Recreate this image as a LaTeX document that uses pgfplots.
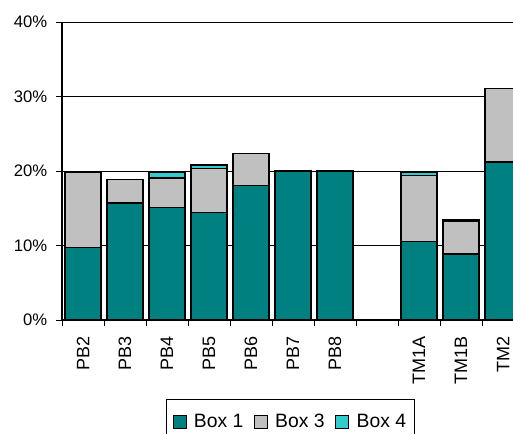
\documentclass[border=0pt]{standalone}
\usepackage{pgfplots}
\pgfplotsset{compat=1.18}
\usepackage{pgfplotstable}
\usepackage{fontspec}
\setmainfont{Liberation Sans}

\definecolor{boxone}{HTML}{008080}
\definecolor{boxthree}{HTML}{C0C0C0}
\definecolor{boxfour}{HTML}{33CCCC}

% x = category slot (slot 7 left empty), values in percent
\pgfplotstableread{
x  b1     b3    b4
0  9.7    10.1  0
1  15.7   3.2   0
2  15.05  4.0   0.7
3  14.4   5.9   0.5
4  18.05  4.25  0
5  20.0   0     0
6  20.0   0     0
8  10.5   8.85  0.45
9  8.85   4.45  0.15
10 21.2   9.9   0
}\boxdata

\begin{document}
\begin{tikzpicture}
% page is 513x434 px at 0.75pt per px; the axis runs past the right edge
\useasboundingbox (0,0) rectangle (384.75pt,325.5pt);
\clip (0,0) rectangle (384.75pt,325.5pt);

\begin{axis}[
  at={(46.5pt,85.5pt)},
  anchor=south west,
  width=346.5pt,
  height=223.5pt,
  scale only axis,
  ybar stacked,
  bar width=27pt,
  xmin=-0.5, xmax=10.5,
  ymin=0, ymax=40,
  axis x line*=bottom,
  axis y line*=left,
  axis line style={-, black, line width=0.9pt},
  ymajorgrids,
  grid style={black, line width=0.7pt},
  ytick={0,10,20,30,40},
  yticklabel={\pgfmathprintnumber{\tick}\%},
  /pgf/number format/assume math mode=true,
  xtick={-0.5,0.5,...,10.5},
  x tick label as interval,
  xticklabels={PB2,PB3,PB4,PB5,PB6,PB7,PB8,{},TM1A,TM1B,TM2},
  tick align=outside,
  major tick length=4.5pt,
  tick style={black, line width=0.7pt},
  yticklabel style={font=\fontsize{12.5}{14}\selectfont, xshift=-3pt},
  xticklabel style={font=\fontsize{13.5}{15}\selectfont, rotate=90, anchor=east, xshift=-4.5pt},
  legend columns=3,
  legend cell align=left,
  legend image code/.code={\draw[#1, draw=black, line width=0.7pt] (0pt,-4.9pt) rectangle (9.75pt,4.9pt);},
  legend style={
    at={(0.2251,-0.2651)}, anchor=north west,
    draw=black, line width=0.9pt,
    font=\fontsize{14.5}{16}\selectfont,
    inner xsep=4.5pt, inner ysep=9pt,
    /tikz/every odd column/.append style={column sep=3.5pt},
    /tikz/every even column/.append style={column sep=6pt},
  },
]
\addplot[fill=boxone, draw=black, line width=0.9pt] table[x=x, y=b1] {\boxdata};
\addlegendentry{Box 1}
\addplot[fill=boxthree, draw=black, line width=0.9pt] table[x=x, y=b3] {\boxdata};
\addlegendentry{Box 3}
\addplot[fill=boxfour, draw=black, line width=0.9pt] table[x=x, y=b4] {\boxdata};
\addlegendentry{Box 4}
\end{axis}
\end{tikzpicture}
\end{document}
